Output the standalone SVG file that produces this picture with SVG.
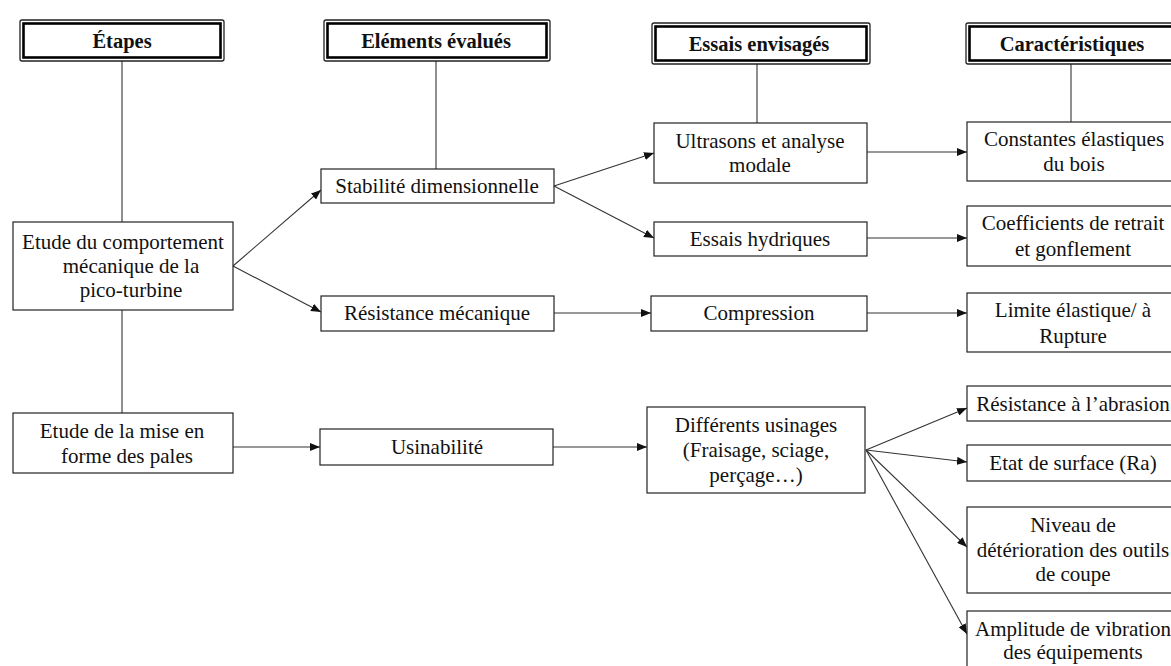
<svg xmlns="http://www.w3.org/2000/svg" width="1171" height="666" viewBox="0 0 1171 666">
<style>
.hdr-o{fill:#fff;stroke:#222;stroke-width:1.3}
.hdr-i{fill:none;stroke:#000;stroke-width:2.6}
.box{fill:#fff;stroke:#222;stroke-width:1.2}
.ht{font-family:"Liberation Serif","Times New Roman",serif;font-weight:bold;font-size:20.5px;fill:#111;text-anchor:middle}
.t{font-family:"Liberation Serif","Times New Roman",serif;font-size:21px;fill:#111;text-anchor:middle}
.ln{stroke:#333;stroke-width:1.1;fill:none}
.ar{stroke:#333;stroke-width:1.1;fill:none;marker-end:url(#ah)}
</style>
<defs>
<marker id="ah" markerUnits="userSpaceOnUse" markerWidth="10" markerHeight="8" refX="10" refY="4" orient="auto">
<path d="M0,0 L10,4 L0,8 z" fill="#111"/>
</marker>
</defs>
<rect width="1171" height="666" fill="#fff"/>
<g id="connectors">
<line class="ln" x1="122" y1="61" x2="122" y2="222"/>
<line class="ln" x1="122" y1="310" x2="122" y2="413"/>
<line class="ln" x1="436" y1="61" x2="436" y2="169"/>
<line class="ln" x1="757" y1="64" x2="757" y2="123"/>
<line class="ln" x1="1071" y1="64" x2="1071" y2="122"/>
<line class="ar" x1="233" y1="266" x2="321" y2="190"/>
<line class="ar" x1="233" y1="266" x2="321" y2="312"/>
<line class="ar" x1="554" y1="186" x2="654" y2="153"/>
<line class="ar" x1="554" y1="186" x2="654" y2="238"/>
<line class="ar" x1="554" y1="313" x2="651" y2="313"/>
<line class="ar" x1="867" y1="152" x2="967" y2="152"/>
<line class="ar" x1="867" y1="238" x2="967" y2="238"/>
<line class="ar" x1="867" y1="313" x2="967" y2="313"/>
<line class="ar" x1="233" y1="447" x2="320" y2="447"/>
<line class="ar" x1="553" y1="447" x2="647" y2="447"/>
<line class="ar" x1="866" y1="450" x2="967" y2="408"/>
<line class="ar" x1="866" y1="450" x2="967" y2="462"/>
<line class="ar" x1="866" y1="450" x2="967" y2="547"/>
<line class="ar" x1="866" y1="450" x2="967" y2="634"/>
</g>
<g id="h-etapes">
<rect class="hdr-o" x="20" y="20" width="204" height="41" rx="2"/>
<rect class="hdr-i" x="23.5" y="23.5" width="197" height="34"/>
<text class="ht" x="122" y="47.5">Étapes</text>
</g>
<g id="h-elements">
<rect class="hdr-o" x="324" y="20" width="226" height="41" rx="2"/>
<rect class="hdr-i" x="327.5" y="23.5" width="219" height="34"/>
<text class="ht" x="436" y="47.5">Eléments évalués</text>
</g>
<g id="h-essais">
<rect class="hdr-o" x="652" y="23" width="218" height="41" rx="2"/>
<rect class="hdr-i" x="655.5" y="26.5" width="211" height="34"/>
<text class="ht" x="759" y="50.5">Essais envisagés</text>
</g>
<g id="h-caract">
<rect class="hdr-o" x="966" y="23" width="214" height="41" rx="2"/>
<rect class="hdr-i" x="969.5" y="26.5" width="220" height="34"/>
<text class="ht" x="1072" y="50.5">Caractéristiques</text>
</g>
<g id="n-comportement">
<rect class="box" x="13" y="222" width="220" height="88"/>
<text class="t" x="123" y="249">Etude du comportement</text>
<text class="t" x="131" y="273">mécanique de la</text>
<text class="t" x="131" y="297">pico-turbine</text>
</g>
<g id="n-stabilite">
<rect class="box" x="321" y="169" width="233" height="34"/>
<text class="t" x="437" y="193">Stabilité dimensionnelle</text>
</g>
<g id="n-resistance">
<rect class="box" x="321" y="296" width="233" height="35"/>
<text class="t" x="437" y="320">Résistance mécanique</text>
</g>
<g id="n-ultrasons">
<rect class="box" x="654" y="123" width="213" height="60"/>
<text class="t" x="760" y="148">Ultrasons et analyse</text>
<text class="t" x="760" y="172">modale</text>
</g>
<g id="n-hydriques">
<rect class="box" x="654" y="222" width="213" height="34"/>
<text class="t" x="760" y="246">Essais hydriques</text>
</g>
<g id="n-compression">
<rect class="box" x="651" y="296" width="216" height="35"/>
<text class="t" x="759" y="320">Compression</text>
</g>
<g id="n-constantes">
<rect class="box" x="967" y="122" width="210" height="59"/>
<text class="t" x="1074" y="146">Constantes élastiques</text>
<text class="t" x="1074" y="171">du bois</text>
</g>
<g id="n-coefficients">
<rect class="box" x="967" y="206" width="210" height="60"/>
<text class="t" x="1073" y="230">Coefficients de retrait</text>
<text class="t" x="1073" y="256">et gonflement</text>
</g>
<g id="n-limite">
<rect class="box" x="967" y="293" width="210" height="59"/>
<text class="t" x="1073" y="317">Limite élastique/ à</text>
<text class="t" x="1073" y="343">Rupture</text>
</g>
<g id="n-mise">
<rect class="box" x="13" y="413" width="220" height="60"/>
<text class="t" x="122" y="438">Etude de la mise en</text>
<text class="t" x="127" y="463">forme des pales</text>
</g>
<g id="n-usinabilite">
<rect class="box" x="320" y="429" width="233" height="36"/>
<text class="t" x="437" y="454">Usinabilité</text>
</g>
<g id="n-usinages">
<rect class="box" x="647" y="407" width="218" height="86"/>
<text class="t" x="756" y="432">Différents usinages</text>
<text class="t" x="756" y="457">(Fraisage, sciage,</text>
<text class="t" x="756" y="482">perçage…)</text>
</g>
<g id="n-abrasion">
<rect class="box" x="967" y="386" width="210" height="35"/>
<text class="t" x="1073" y="411">Résistance à l’abrasion</text>
</g>
<g id="n-etat">
<rect class="box" x="967" y="445" width="210" height="36"/>
<text class="t" x="1073" y="470">Etat de surface (Ra)</text>
</g>
<g id="n-niveau">
<rect class="box" x="967" y="507" width="210" height="86"/>
<text class="t" x="1073" y="532">Niveau de</text>
<text class="t" x="1073" y="557">détérioration des outils</text>
<text class="t" x="1073" y="581">de coupe</text>
</g>
<g id="n-amplitude">
<rect class="box" x="967" y="611" width="210" height="70"/>
<text class="t" x="1073" y="636">Amplitude de vibration</text>
<text class="t" x="1073" y="659">des équipements</text>
</g>
</svg>
